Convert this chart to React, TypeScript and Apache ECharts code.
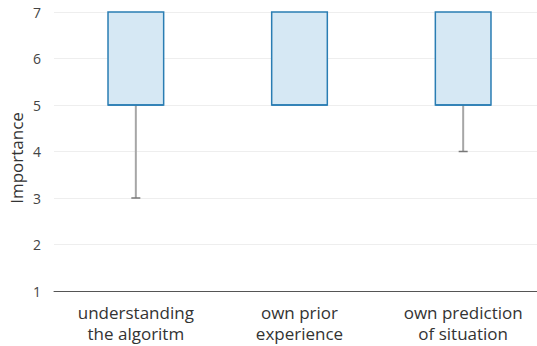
import React, { useEffect, useRef } from "react";
import * as echarts from "echarts";

const categories = ["understanding\nthe algoritm", "own prior\nexperience", "own prediction\nof situation"];
const mins = [3, 5, 4];
const q1s = [5, 5, 5];
const medians = [5, 5, 5];
const q3s = [7, 7, 7];
const maxs = [7, 7, 7];
const yTicks = [1, 2, 3, 4, 5, 6, 7];
const yTitle = "Importance";

export default function App() {
  const ref = useRef<HTMLDivElement>(null);
  useEffect(() => {
    const chart = echarts.init(ref.current!, null, { renderer: "svg" });
    const data = categories.map((_, i) => [i, mins[i], q1s[i], medians[i], q3s[i], maxs[i]]);
    const font = "'Open Sans', 'Noto Sans', sans-serif";
    chart.setOption({
      animation: false,
      grid: { left: 54, width: 491, top: 12, bottom: 55, containLabel: false, outerBoundsMode: "none" },
      graphic: [
        {
          type: "text",
          x: 16,
          y: 158,
          rotation: Math.PI / 2,
          style: {
            text: yTitle,
            fill: "#333",
            fontSize: 17,
            fontFamily: font,
            align: "center",
            verticalAlign: "middle",
          },
        },
      ],
      xAxis: {
        type: "category",
        data: categories,
        axisLine: { show: true, lineStyle: { color: "#555", width: 1 } },
        axisTick: { show: false },
        axisLabel: { color: "#333", fontSize: 17, fontFamily: font, lineHeight: 21, margin: 11, interval: 0 },
        splitLine: { show: false },
      },
      yAxis: {
        type: "value",
        min: yTicks[0],
        max: yTicks[yTicks.length - 1],
        interval: 1,
        axisLine: { show: false },
        axisTick: { show: false },
        axisLabel: { color: "#444", fontSize: 14, fontFamily: font, margin: 13 },
        splitLine: { lineStyle: { color: "#eeeeee", width: 1 } },
      },
      series: [
        {
          type: "custom",
          data,
          renderItem: (params: any, api: any) => {
            const x = api.value(0);
            const pMin = api.coord([x, api.value(1)]);
            const pQ1 = api.coord([x, api.value(2)]);
            const pMed = api.coord([x, api.value(3)]);
            const pQ3 = api.coord([x, api.value(4)]);
            const pMax = api.coord([x, api.value(5)]);
            const bw = api.size([1, 0])[0] * 0.34;
            const cap = 9;
            const cx = pQ1[0];
            const children: any[] = [];
            const whisker = { stroke: "#a6a6a6", lineWidth: 2 };
            const capStyle = { stroke: "#777", lineWidth: 1.5 };
            if (api.value(1) < api.value(2)) {
              children.push({ type: "line", shape: { x1: cx, y1: pQ1[1], x2: cx, y2: pMin[1] }, style: whisker });
              children.push({ type: "line", shape: { x1: cx - cap / 2, y1: pMin[1], x2: cx + cap / 2, y2: pMin[1] }, style: capStyle });
            }
            if (api.value(5) > api.value(4)) {
              children.push({ type: "line", shape: { x1: cx, y1: pQ3[1], x2: cx, y2: pMax[1] }, style: whisker });
              children.push({ type: "line", shape: { x1: cx - cap / 2, y1: pMax[1], x2: cx + cap / 2, y2: pMax[1] }, style: capStyle });
            }
            children.push({
              type: "rect",
              shape: { x: cx - bw / 2, y: pQ3[1], width: bw, height: pQ1[1] - pQ3[1] },
              style: { fill: "#d6e8f4", stroke: "#2a7db3", lineWidth: 1.5 },
            });
            children.push({
              type: "line",
              shape: { x1: cx - bw / 2, y1: pMed[1], x2: cx + bw / 2, y2: pMed[1] },
              style: { stroke: "#2a7db3", lineWidth: 1.5 },
            });
            return { type: "group", children };
          },
        },
      ],
    });
    return () => chart.dispose();
  }, []);
  return <div ref={ref} style={{ width: 537, height: 346, position: "absolute", left: 0, top: 0 }} />;
}
